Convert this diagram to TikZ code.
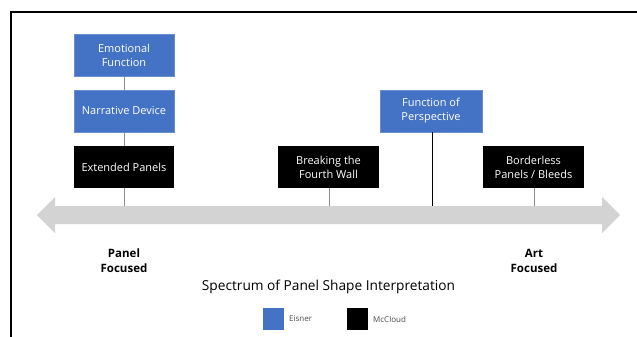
\documentclass[tikz,border=0pt]{standalone}
\usepackage{fontspec}
\setmainfont{Open Sans}
\definecolor{eisner}{HTML}{4472C4}
\definecolor{arrowgray}{HTML}{D3D3D3}
\definecolor{linegray}{HTML}{8C8C8C}
\begin{document}
\begin{tikzpicture}[x=1pt,y=-1pt,
  box/.style={minimum width=100pt,minimum height=42pt,inner sep=1pt,align=center,text=white,font=\fontsize{11}{14}\selectfont},
  eis/.style={box,fill=eisner,draw=eisner!80!white},
  mcc/.style={box,fill=black},
  conn/.style={draw=linegray,line width=0.8pt},
  lbl/.style={font=\fontsize{11.5}{15}\selectfont\bfseries,align=center}]
\useasboundingbox (0,0) rectangle (637,337);
\fill[white] (0,0) rectangle (637,337);
% frame
\draw[line width=2pt] (11,337) -- (11,12) -- (637,12);
% spectrum arrow
\fill[arrowgray] (37,215) -- (55,197) -- (55,206) -- (602,206) -- (602,197) -- (620,215) -- (602,233) -- (602,224) -- (55,224) -- (55,233) -- cycle;
\coordinate (pA) at (124,206);
\coordinate (pB) at (329,206);
\coordinate (pC) at (432,206);
\coordinate (pD) at (534,206);
% boxes
\node[eis] (emo) at (124,55) {Emotional\\Function};
\node[eis] (nar) at (124,111) {Narrative Device};
\node[mcc] (ext) at (124,167) {Extended Panels};
\node[mcc, minimum width=101pt] (brk) at (328.5,167) {Breaking the\\Fourth Wall};
\node[eis, minimum width=102pt] (per) at (431,111) {Function of\\Perspective};
\node[mcc, minimum width=101pt] (bdl) at (533.5,167) {Borderless\\Panels / Bleeds};
% connectors
\draw[conn] (emo) -- (nar);
\draw[conn] (nar) -- (ext);
\draw[conn] (ext) -- (pA);
\draw[conn] (brk.south -| pB) -- (pB);
\draw[line width=0.9pt] (per.south -| pC) -- (pC);
\draw[conn] (bdl.south -| pD) -- (pD);
% end labels
\node[lbl] (pf) at (124,261) {Panel\\Focused};
\node[lbl] (af) at (534,261) {Art\\Focused};
\node[font=\fontsize{13.7}{16}\selectfont] (title) at (328.5,287) {Spectrum of Panel Shape Interpretation};
% legend
\node[fill=eisner,minimum width=21pt,minimum height=22pt,inner sep=0pt] (le) at (273.5,319) {};
\node[anchor=west,font=\fontsize{8}{9}\selectfont,text=black!70,inner sep=0pt] (let) at (289,319) {Eisner};
\node[fill=black,minimum width=21pt,minimum height=22pt,inner sep=0pt] (lm) at (357.5,319) {};
\node[anchor=west,font=\fontsize{8}{9}\selectfont,text=black!70,inner sep=0pt] (lmt) at (373,319) {McCloud};
\end{tikzpicture}
\end{document}
